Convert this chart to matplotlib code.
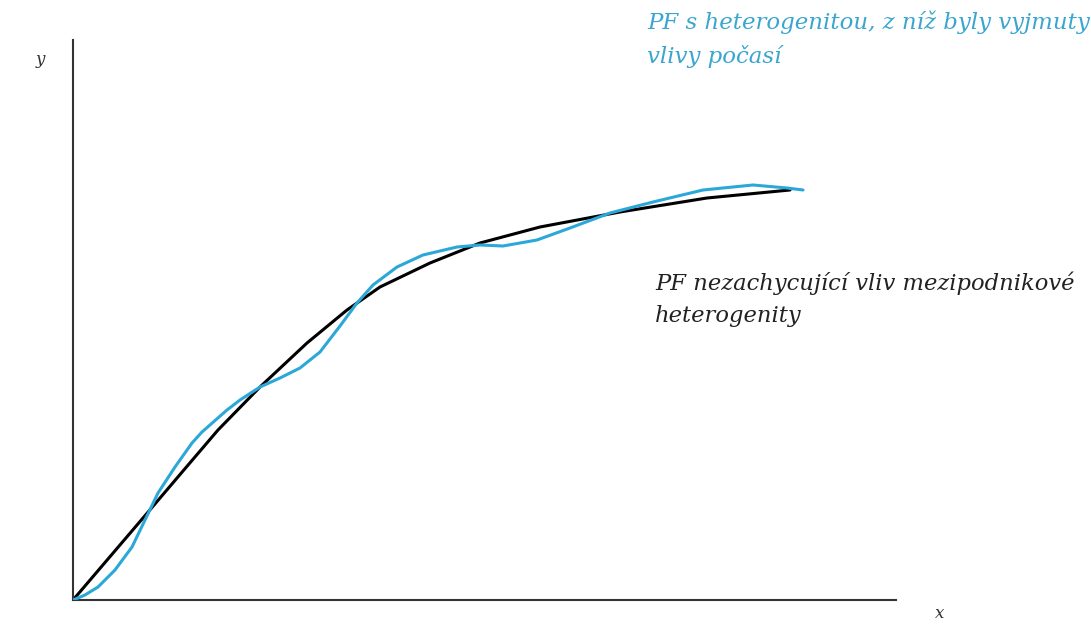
import matplotlib.pyplot as plt

# origin at lower left, units are pixels from the axes corner
black_x = [0, 70, 110, 145, 187, 234, 274, 307, 357, 407, 467, 547, 634, 717]
black_y = [0, 82, 129, 170, 213, 257, 290, 313, 337, 357, 373, 388, 402, 410]

blue_x = [0, 12, 25, 42, 59, 72, 85, 102, 119, 129, 154, 167, 187, 207, 227,
          247, 267, 284, 300, 324, 350, 384, 407, 430, 464, 497, 537, 580,
          630, 680, 714, 730]
blue_y = [0, 5, 13, 30, 53, 80, 107, 133, 157, 168, 190, 200, 213, 222, 232,
          248, 274, 297, 315, 333, 345, 353, 355, 354, 360, 372, 387, 398,
          410, 415, 412, 410]

blue_label = "PF s heterogenitou, z níž byly vyjmuty\nvlivy počasí"
black_label = "PF nezachycující vliv mezipodnikové\nheterogenity"

W, H = 1091, 624
fig = plt.figure(figsize=(W / 100, H / 100), dpi=100)
ax = fig.add_axes([73 / W, 24 / H, 823 / W, 560 / H])
ax.set_xlim(0, 823)
ax.set_ylim(0, 560)

blue = "#2ba8d8"
ax.plot(black_x, black_y, color="black", lw=2.2, solid_joinstyle="round",
        solid_capstyle="round", zorder=2)
ax.plot(blue_x, blue_y, color=blue, lw=2.2, solid_joinstyle="round",
        solid_capstyle="round", zorder=3)

for s in ["top", "right"]:
    ax.spines[s].set_visible(False)
for s in ["left", "bottom"]:
    ax.spines[s].set_color("#333333")
    ax.spines[s].set_linewidth(1.5)
ax.set_xticks([])
ax.set_yticks([])

# baseline alignment goes by the last line of a two-line text
font = dict(family="DejaVu Serif", style="italic")
fig.text(40 / W, 1 - 60 / H, "y", fontsize=12, ha="center", va="center", color="#333333", **font)
fig.text(940 / W, 1 - 613 / H, "x", fontsize=12, ha="center", va="center", color="#333333", **font)
fig.text(647 / W, 1 - 63 / H, blue_label, fontsize=16.5, ha="left", va="baseline",
         color="#3aa6cf", linespacing=1.6, **font)
fig.text(655 / W, 1 - 322 / H, black_label, fontsize=16.3, ha="left", va="baseline",
         color="#222222", linespacing=1.6, **font)

fig.savefig("out.png", dpi=100)
